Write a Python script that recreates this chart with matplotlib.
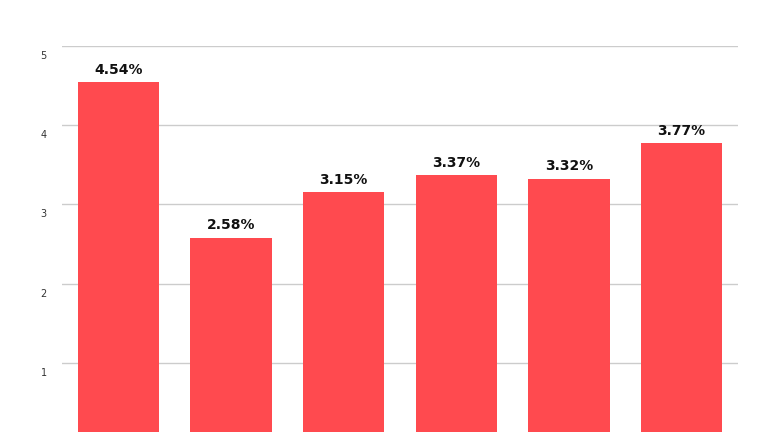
import matplotlib
matplotlib.use("Agg")
import matplotlib.pyplot as plt
import matplotlib.transforms as mtransforms

categories = ["A", "B", "C", "D", "E", "F"]
values = [4.54, 2.58, 3.15, 3.37, 3.32, 3.77]
yticks = [1, 2, 3, 4, 5]

bar_color = "#FF4A4F"

fig = plt.figure(figsize=(7.68, 4.32), dpi=100)
ax = fig.add_axes([62/768, 0.0, 676/768, 1 - 46/432])

x = list(range(len(categories)))
bars = ax.bar(x, values, width=0.72, color=bar_color, zorder=3)
ax.set_xlim(-0.5, 5.5)
ax.set_ylim(0.125, 5.0)

for xi, v in zip(x, values):
    ax.annotate(f"{v:.2f}%", (xi, v), xytext=(0, 4), textcoords="offset points",
                ha="center", va="bottom", fontsize=10, fontweight="bold",
                color="#111111", family="DejaVu Sans")

ax.set_yticks(yticks)
ax.set_yticklabels([str(t) for t in yticks], fontsize=7, color="#333333")
ax.tick_params(axis="y", length=0, pad=11)
offset = mtransforms.ScaledTranslation(0, -9/100, fig.dpi_scale_trans)
for lab in ax.get_yticklabels():
    lab.set_transform(lab.get_transform() + offset)
ax.set_xticks([])
ax.grid(axis="y", color="#cccccc", linewidth=1, zorder=0)
for s in ax.spines.values():
    s.set_visible(False)

fig.savefig("out.png", dpi=100)
